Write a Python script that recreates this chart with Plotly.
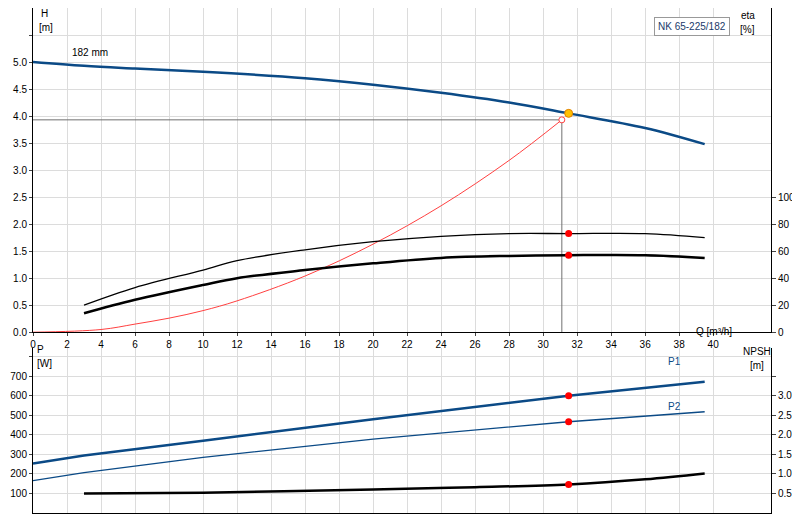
import plotly.graph_objects as go

# pump curves
q_h = [0, 3, 6, 10, 16, 20, 24, 28, 31.5, 36, 39.5]
head = [5.0, 4.93, 4.88, 4.82, 4.7, 4.58, 4.43, 4.25, 4.05, 3.78, 3.48]

q_eta = [3, 6, 10, 12, 16, 20, 24, 28, 31.5, 36, 39.5]
eta1 = [20, 33, 46, 53, 61, 67, 71, 73, 73, 73, 70]
eta2 = [14, 24, 35, 40, 46, 51, 55, 56.5, 57, 57, 55]

q_sys = [0, 4, 6, 8, 10, 12, 16, 20, 24, 28, 31.1]
h_sys = [0, 0.05, 0.15, 0.26, 0.4, 0.58, 1.04, 1.63, 2.34, 3.18, 3.93]

q_p = [0, 3, 10, 20, 31.5, 39.5]
p1 = [253, 294, 370, 480, 600, 671]
p2 = [166, 207, 285, 378, 467, 518]

q_npsh = [3, 10, 20, 26, 31.5, 36, 39.5]
npsh = [0.5, 0.52, 0.6, 0.66, 0.73, 0.86, 1.01]

duty_q, duty_h = 31.1, 3.93
op_q, op_h = 31.5, 4.05

blue = "#0b4a86"
fig = go.Figure()
fig.add_trace(go.Scatter(x=q_h, y=head, mode="lines", line=dict(color=blue, width=2.5, shape="spline"), xaxis="x", yaxis="y"))
fig.add_trace(go.Scatter(x=q_sys, y=h_sys, mode="lines", line=dict(color="#ff4040", width=1, shape="spline"), xaxis="x", yaxis="y"))
fig.add_trace(go.Scatter(x=[0, duty_q, duty_q], y=[duty_h, duty_h, 0], mode="lines", line=dict(color="#707070", width=1), xaxis="x", yaxis="y"))
fig.add_trace(go.Scatter(x=[duty_q], y=[duty_h], mode="markers", marker=dict(color="white", size=6, line=dict(color="#ff4040", width=1)), xaxis="x", yaxis="y"))
fig.add_trace(go.Scatter(x=[op_q], y=[op_h], mode="markers", marker=dict(color="#ffc000", size=8, line=dict(color="#e08000", width=1)), xaxis="x", yaxis="y"))
fig.add_trace(go.Scatter(x=q_eta, y=eta1, mode="lines", line=dict(color="black", width=1.3, shape="spline"), xaxis="x", yaxis="y2"))
fig.add_trace(go.Scatter(x=q_eta, y=eta2, mode="lines", line=dict(color="black", width=2.5, shape="spline"), xaxis="x", yaxis="y2"))
fig.add_trace(go.Scatter(x=[op_q, op_q], y=[eta1[8], eta2[8]], mode="markers", marker=dict(color="red", size=7), xaxis="x", yaxis="y2"))

fig.add_trace(go.Scatter(x=q_p, y=p1, mode="lines", line=dict(color=blue, width=2.5), xaxis="x2", yaxis="y3"))
fig.add_trace(go.Scatter(x=q_p, y=p2, mode="lines", line=dict(color=blue, width=1.3), xaxis="x2", yaxis="y3"))
fig.add_trace(go.Scatter(x=[op_q, op_q], y=[p1[4], p2[4]], mode="markers", marker=dict(color="red", size=7), xaxis="x2", yaxis="y3"))
fig.add_trace(go.Scatter(x=q_npsh, y=npsh, mode="lines", line=dict(color="black", width=2.5, shape="spline"), xaxis="x2", yaxis="y4"))
fig.add_trace(go.Scatter(x=[op_q], y=[npsh[4]], mode="markers", marker=dict(color="red", size=7), xaxis="x2", yaxis="y4"))

grid = "#dcdcdc"
font = dict(family="Liberation Sans, Arial", size=10, color="black")
xt = list(range(0, 42, 2))
ax_common = dict(range=[0, 43.4], tickvals=xt, gridcolor=grid, showline=True, linecolor="black",
                 zeroline=False, automargin=False)
fig.update_layout(
    width=800, height=520, margin=dict(l=25, r=37, t=0, b=15),
    plot_bgcolor="white", paper_bgcolor="white", showlegend=False, font=font,
    xaxis=dict(**ax_common, domain=[0, 1], anchor="y", ticks="outside", ticklen=3, mirror=False),
    xaxis2=dict(**ax_common, domain=[0, 1], anchor="y3", showticklabels=False),
    yaxis=dict(domain=[0.358, 1], range=[0, 6], tickvals=[i * 0.5 for i in range(12)],
               ticktext=[f"{i * 0.5:.1f}" for i in range(11)] + [""], gridcolor=grid, automargin=False,
               showline=True, linecolor="black", zeroline=False, ticks="outside", ticklen=3),
    yaxis2=dict(overlaying="y", side="right", range=[0, 240], tickvals=[0, 20, 40, 60, 80, 100],
                showgrid=False, showline=True, linecolor="black", ticks="outside", ticklen=4,
                zeroline=False, automargin=False),
    yaxis3=dict(domain=[0, 0.327], anchor="x2", range=[0, 845], tickvals=list(range(100, 900, 100)),
                ticktext=[str(v) for v in range(100, 800, 100)] + [""], gridcolor=grid, automargin=False,
                showline=True, linecolor="black", zeroline=False, ticks="outside", ticklen=3),
    yaxis4=dict(overlaying="y3", side="right", anchor="x2", range=[0, 4.22],
                tickvals=[0.5, 1, 1.5, 2, 2.5, 3, 3.5], ticktext=["0.5", "1.0", "1.5", "2.0", "2.5", "3.0", ""],
                showgrid=False, showline=True, linecolor="black", ticks="outside", ticklen=4,
                zeroline=False, automargin=False),
)

ann = [
    dict(x=12, y=6, text="H"), dict(x=14, y=20, text="[m]"),
    dict(x=775, y=8, text="eta"), dict(x=775, y=22, text="[%]"),
    dict(x=62, y=46, text="182 mm"),
    dict(x=738, y=333, text="Q [m³/h]"),
    dict(x=8, y=352, text="P"), dict(x=12, y=366, text="[W]"),
    dict(x=785, y=354, text="NPSH"), dict(x=785, y=368, text="[m]"),
    dict(x=695, y=364, text="P1", color=blue), dict(x=695, y=410, text="P2", color=blue),
]
for a in ann:
    fig.add_annotation(x=a["x"] / 800, y=1 - a["y"] / 520, xref="paper", yref="paper", yanchor="middle",
                       xanchor="center", text=a["text"], showarrow=False,
                       font=dict(size=10, color=a.get("color", "black")))
fig.add_annotation(x=(722 - 25) / 738, y=1 - 9 / 505, xref="paper", yref="paper", text="NK 65-225/182",
                   showarrow=False, font=dict(size=10, color="#1a3a6a"), bgcolor="white",
                   bordercolor="#999", borderwidth=1, borderpad=3)
fig.write_html("out.html")
